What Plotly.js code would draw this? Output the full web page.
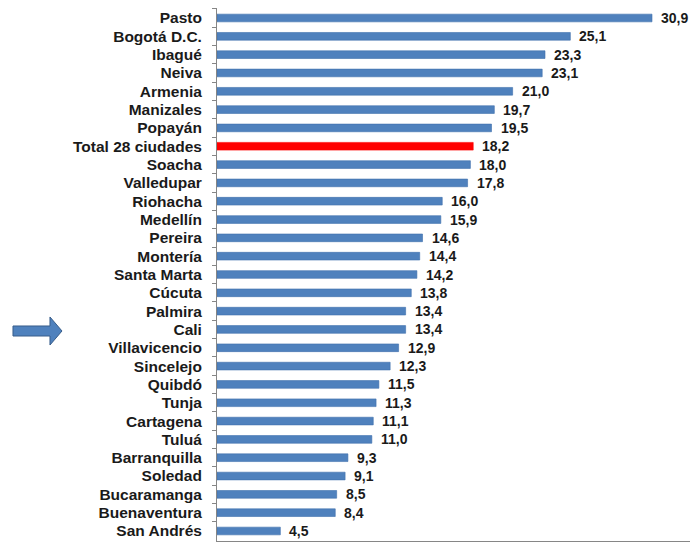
<!DOCTYPE html>
<html>
<head>
<meta charset="utf-8">
<script src="https://cdn.plot.ly/plotly-3.0.1.min.js"></script>
<style>html,body{margin:0;padding:0;background:#fff;}#chart{width:690px;height:542px;}</style>
</head>
<body>
<div id="chart"></div>
<script>
const cities = ["Pasto","Bogotá D.C.","Ibagué","Neiva","Armenia","Manizales","Popayán","Total 28 ciudades","Soacha","Valledupar","Riohacha","Medellín","Pereira","Montería","Santa Marta","Cúcuta","Palmira","Cali","Villavicencio","Sincelejo","Quibdó","Tunja","Cartagena","Tuluá","Barranquilla","Soledad","Bucaramanga","Buenaventura","San Andrés"];
const values = [30.9,25.1,23.3,23.1,21.0,19.7,19.5,18.2,18.0,17.8,16.0,15.9,14.6,14.4,14.2,13.8,13.4,13.4,12.9,12.3,11.5,11.3,11.1,11.0,9.3,9.1,8.5,8.4,4.5];
const highlight = "Total 28 ciudades";

const colors = cities.map(c => c === highlight ? "#FF0000" : "#4F81BD");
const lineColors = cities.map(c => c === highlight ? "#FF0000" : "#3F70AD");
const labels = values.map(v => v.toFixed(1).replace(".", ","));

const W = 690, H = 542, L = 217, T = 8, B = 1;
const pw = W - L, ph = H - T - B;
const px = x => (x - L) / pw;
const py = y => (H - B - y) / ph;
const arrowPts = [[13,326],[50,326],[50,317],[62,331],[50,345],[50,336],[13,336]];
const arrowPath = "M " + arrowPts.map(p => px(p[0]).toFixed(4) + "," + py(p[1]).toFixed(4)).join(" L ") + " Z";

const trace = {
  type: "bar",
  orientation: "h",
  x: values,
  y: cities,
  marker: {color: colors, line: {color: lineColors, width: 0.6}},
  hoverinfo: "none"
};

const annotations = values.map((v, i) => ({
  x: v, y: cities[i], xref: "x", yref: "y",
  text: labels[i], showarrow: false, xanchor: "left", yanchor: "middle",
  xshift: 7, font: {family: "Liberation Sans, Arial, sans-serif", size: 14, color: "#1a1a1a", weight: "bold"}
}));

const layout = {
  width: W, height: H,
  margin: {l: L, r: 0, t: T, b: B, pad: 0},
  paper_bgcolor: "#fff", plot_bgcolor: "#fff",
  showlegend: false,
  bargap: 0.58,
  font: {family: "Liberation Sans, Arial, sans-serif"},
  xaxis: {range: [0, 33.6], showgrid: false, zeroline: false, showline: true, linecolor: "#868686", linewidth: 1, ticks: "outside", ticklen: 4, tickcolor: "#868686", dtick: 5, showticklabels: false},
  yaxis: {type: "category", autorange: "reversed", tickmode: "linear", tick0: 0, dtick: 1, showgrid: false, zeroline: false, showline: true, linecolor: "#868686", linewidth: 1, ticks: "outside", tickson: "boundaries", ticklen: 4, tickcolor: "#868686", ticklabelstandoff: 11,
    tickfont: {family: "Liberation Sans, Arial, sans-serif", size: 15.5, color: "#1a1a1a", weight: "bold"}},
  annotations: annotations,
  shapes: [{type: "path", xref: "paper", yref: "paper", path: arrowPath, fillcolor: "#4F81BD", line: {color: "#385D8A", width: 1}, layer: "above"}]
};

Plotly.newPlot("chart", [trace], layout, {displayModeBar: false, staticPlot: true});
</script>
</body>
</html>
